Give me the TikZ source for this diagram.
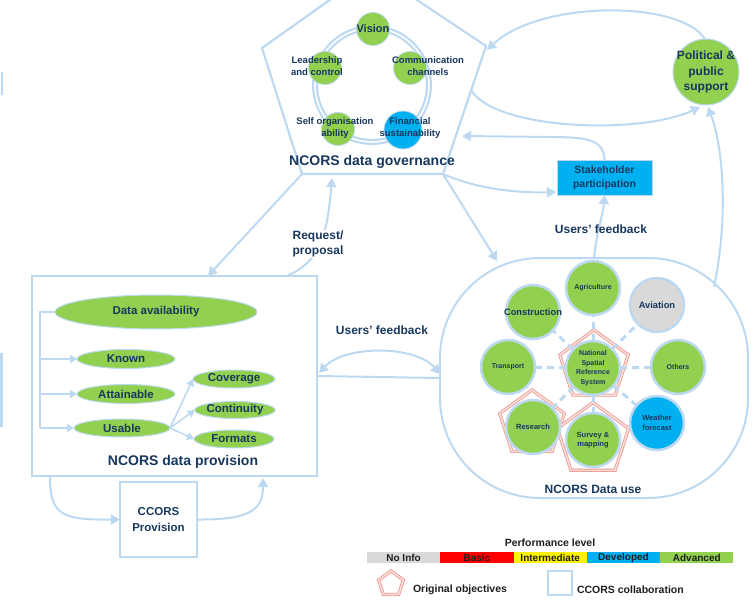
\documentclass[tikz,border=0pt]{standalone}
\usepackage{fontspec}
\setmainfont{Liberation Sans}
\usetikzlibrary{arrows.meta,shapes.geometric,calc}
\definecolor{lb}{RGB}{189,217,242}
\definecolor{navy}{RGB}{23,55,94}
\definecolor{lgreen}{RGB}{146,208,80}
\definecolor{sky}{RGB}{0,176,240}
\definecolor{nogrey}{RGB}{217,217,217}
\definecolor{objpink}{RGB}{238,150,140}
\definecolor{legtext}{RGB}{30,30,30}

\newcommand{\fs}[2]{\bfseries\fontsize{#1}{#2}\selectfont}

\begin{document}
\begin{tikzpicture}[x=1pt,y=-1pt,
  every node/.style={font=\fs{10}{12}, text=navy, align=center, inner sep=0pt, outer sep=0pt},
  link/.style={draw=lb, line width=2pt},
  conn/.style={draw=lb, line width=2pt, -{Triangle[length=9pt,width=10pt]}},
  biconn/.style={draw=lb, line width=2pt, {Triangle[length=9pt,width=10pt]}-{Triangle[length=9pt,width=10pt]}},
  smallconn/.style={draw=lb, line width=1.6pt, -{Triangle[length=7pt,width=8pt]}},
  gcirc/.style={circle, fill=lgreen, draw=lb, line width=0.8pt, minimum size=33pt},
  ucirc/.style={circle, fill=lgreen, draw=lb, line width=2.5pt, minimum size=54pt},
  gell/.style={ellipse, fill=lgreen, draw=lb, line width=1pt},
  objective/.style={regular polygon, regular polygon sides=5, draw=objpink, line width=0.8pt, double=objpink!30, double distance=1.6pt},
  spoke/.style={draw=lb, line width=3pt, dash pattern=on 7pt off 5pt},
  legseg/.style={minimum width=73.3pt, minimum height=11pt, text=legtext, font=\fs{10}{11}},
  heading/.style={font=\fs{14}{16}}
]
\useasboundingbox (0,0) rectangle (756,602);
\clip (0,0) rectangle (756,602);

% ---------- cut-off strokes at the left margin ----------
\draw[lb, line width=2pt] (1.5,72) -- (1.5,95);
\draw[lb, line width=2.5pt] (1.5,353) -- (1.5,427);

% ---------- data governance ----------
\coordinate (gT) at (372,-30);
\coordinate (gL) at (262,48);
\coordinate (gR) at (486,46);
\coordinate (gBL) at (302,174);
\coordinate (gBR) at (443,174);
\draw[lb, line width=2.2pt, line join=round] (gT) -- (gR) -- (gBR) -- (gBL) -- (gL) -- cycle;

\draw[lb, line width=6pt] (372,85) circle[radius=57];
\draw[white, line width=1.6pt] (372,85) circle[radius=57];

\node[gcirc] (vision) at (373,29) {};
\node[gcirc] (lead) at (325,68) {};
\node[gcirc] (comm) at (410,68) {};
\node[gcirc] (self) at (338,129) {};
\node[gcirc, fill=sky, minimum size=38pt] (fin) at (403,130) {};

\node[font=\fs{11}{13}] at (vision) {Vision};
\node[font=\fs{9.5}{11.5}] at (317,66) {Leadership\\and control};
\node[font=\fs{9.5}{11.5}] at (428,66) {Communication\\channels};
\node[font=\fs{9.5}{11.5}] at (335,128) {Self organisation\\ability};
\node[font=\fs{9.5}{11.5}] at (410,128) {Financial\\sustainability};
\node[heading] (govtitle) at (372,162) {NCORS data governance};

% ---------- political support and stakeholders ----------
\node[circle, fill=lgreen, draw=lb, line width=1pt, minimum size=66pt] (pol) at (706,72) {};
\node[font=\fs{12}{15.5}] at (pol) {Political \&\\public\\support};
\node[fill=sky, draw=lb, line width=1pt, minimum width=95pt, minimum height=35pt, font=\fs{10.5}{14}] (stake) at (604.5,177.5) {Stakeholder\\participation};

% ---------- data provision ----------
\node[draw=lb, line width=2pt, minimum width=285pt, minimum height=200pt] (prov) at (174.5,376) {};
\node[gell, minimum width=202pt, minimum height=34pt, font=\fs{11.5}{13}] (avail) at (156,312) {Data availability};
\node[gell, minimum width=98pt, minimum height=19pt, font=\fs{11.5}{13}] (known) at (126,359) {Known};
\node[gell, minimum width=98pt, minimum height=19pt, font=\fs{11.5}{13}] (attain) at (126,394) {Attainable};
\node[gell, minimum width=96pt, minimum height=18pt, font=\fs{11.5}{13}] (usable) at (122,428) {Usable};
\node[gell, minimum width=82pt, minimum height=18pt, font=\fs{11.5}{13}] (cover) at (234,379) {Coverage};
\node[gell, minimum width=80pt, minimum height=17pt, font=\fs{11.5}{13}] (contin) at (235,410) {Continuity};
\node[gell, minimum width=80pt, minimum height=18pt, font=\fs{11.5}{13}] (formats) at (234,439) {Formats};
\node[heading] (provtitle) at (183,462) {NCORS data provision};

\coordinate (brTop) at (40,312);
\coordinate (brK) at (40,359);
\coordinate (brA) at (40,394);
\coordinate (brU) at (40,428);
\draw[link, line width=1.6pt] (avail.west) -- (brTop) -- (brU);
\draw[smallconn] (brK) -- (known.west);
\draw[smallconn] (brA) -- (attain.west);
\draw[smallconn] (brU) -- (usable.west);
\draw[smallconn] (usable.east) -- (cover.west);
\draw[smallconn] (usable.east) -- (contin.west);
\draw[smallconn] (usable.east) -- (formats.west);

% ---------- CCORS provision ----------
\node[draw=lb, line width=2pt, minimum width=77pt, minimum height=75pt, font=\fs{11.5}{16}] (ccors) at (158.5,519.5) {CCORS\\Provision};
\coordinate (provOut) at (50,477);
\coordinate (provIn) at (263,478);
\draw[conn] (provOut) .. controls (50,515) and (62,520) .. (ccors.west);
\draw[conn] (ccors.east) .. controls (250,520) and (263,510) .. (provIn);

% ---------- data use ----------
\node[draw=lb, line width=2pt, rounded corners=100pt, minimum width=308pt, minimum height=240pt] (use) at (594,378) {};

\node[objective, minimum size=72pt] (nsrsobj) at (594,366) {};
\node[objective, minimum size=68pt] (resobj) at (532,424) {};
\node[objective, minimum size=75pt] (survobj) at (593,440) {};

\node[ucirc] (nsrs) at (593,368) {};
\node[ucirc] (agri) at (593,288) {};
\node[ucirc] (cons) at (533,312) {};
\node[ucirc, fill=nogrey] (avia) at (657,305) {};
\node[ucirc] (trans) at (508,367) {};
\node[ucirc] (oth) at (678,367) {};
\node[ucirc] (res) at (533,427) {};
\node[ucirc] (surv) at (593,440) {};
\node[ucirc, fill=sky] (weat) at (657,423) {};

\foreach \c in {agri,cons,avia,trans,oth,res,surv,weat}
  \draw[spoke] (nsrs) -- (\c);

\node[font=\fs{7}{9.5}] at (nsrs) {National\\Spatial\\Reference\\System};
\node[font=\fs{7}{9}] at (agri) {Agriculture};
\node[font=\fs{9.3}{11}] at (cons) {Construction};
\node[font=\fs{9.3}{11}] at (avia) {Aviation};
\node[font=\fs{7}{9}] at (trans) {Transport};
\node[font=\fs{7}{9}] at (oth) {Others};
\node[font=\fs{7.5}{9}] at (res) {Research};
\node[font=\fs{7.5}{9.5}] at (surv) {Survey \&\\mapping};
\node[font=\fs{7.5}{9.5}] at (weat) {Weather\\forecast};
\node[font=\fs{12}{14}] (usetitle) at (593,489) {NCORS Data use};

% ---------- connectors between the blocks ----------
\coordinate (gRmid) at (471,90);
\coordinate (gEin) at (462,136);
\coordinate (polIn) at (700,107);
\coordinate (polTop) at (705,39);
\coordinate (polArr) at (487,50);
\coordinate (stakeIn) at (556,192);
\coordinate (useTL) at (497,261);
\coordinate (useTR) at (714,287);
\coordinate (polBot) at (708,107);
\coordinate (reqS) at (287,276);
\coordinate (reqE) at (332,178);
\coordinate (ufL) at (319,373);
\coordinate (ufR) at (440,374);

\draw[conn] (polTop) .. controls (680,0) and (540,0) .. (polArr);
\draw[conn] (gRmid) .. controls (495,130) and (640,135) .. (polIn);
\draw[conn] (stake.north) .. controls (604,140) and (588,137) .. (550,137) -- (gEin);
\draw[conn] (gBR) .. controls (480,190) and (520,193) .. (stakeIn);
\draw[conn] (use.north) .. controls (596,235) and (603,215) .. (stake.south);
\draw[conn] (useTR) .. controls (728,220) and (724,150) .. (polBot);
\draw[conn] (gBR) -- (useTL);
\draw[conn] (gBL) -- (prov.north -| 208,0);
\draw[conn] (reqS) .. controls (318,262) and (327,240) .. (reqE);
\node[fill=white, inner sep=1pt, font=\fs{12}{15}] (reqlabel) at (318,244) {Request/\\proposal};
\draw[biconn] (ufL) .. controls (345,345) and (415,345) .. (ufR);
\draw[link] (prov.east) -- (use.west);
\node[font=\fs{12}{14}] (uf1) at (382,330) {Users’ feedback};
\node[font=\fs{12}{14}] (uf2) at (601,229) {Users’ feedback};

% ---------- legend ----------
\node[font=\fs{10.5}{12}, text=legtext] (perf) at (550,543) {Performance level};
\node[legseg, fill=nogrey] (l1) at (403.6,557.5) {No Info};
\node[legseg, fill=red] (l2) at (476.9,557.5) {Basic};
\node[legseg, fill=yellow] (l3) at (550.2,557.5) {Intermediate};
\node[legseg, fill=sky] (l4) at (623.5,557.5) {Developed};
\node[legseg, fill=lgreen] (l5) at (696.8,557.5) {Advanced};
\node[objective, minimum size=26pt] (legobj) at (391,584) {};
\node[anchor=west, font=\fs{10.5}{12}, text=legtext] (legobjtxt) at (413,590) {Original objectives};
\node[draw=lb, line width=2pt, minimum size=24pt] (legccors) at (559.5,582.5) {};
\node[anchor=west, font=\fs{10.5}{12}, text=legtext] (legccorstxt) at (577,590) {CCORS collaboration};
\end{tikzpicture}
\end{document}
